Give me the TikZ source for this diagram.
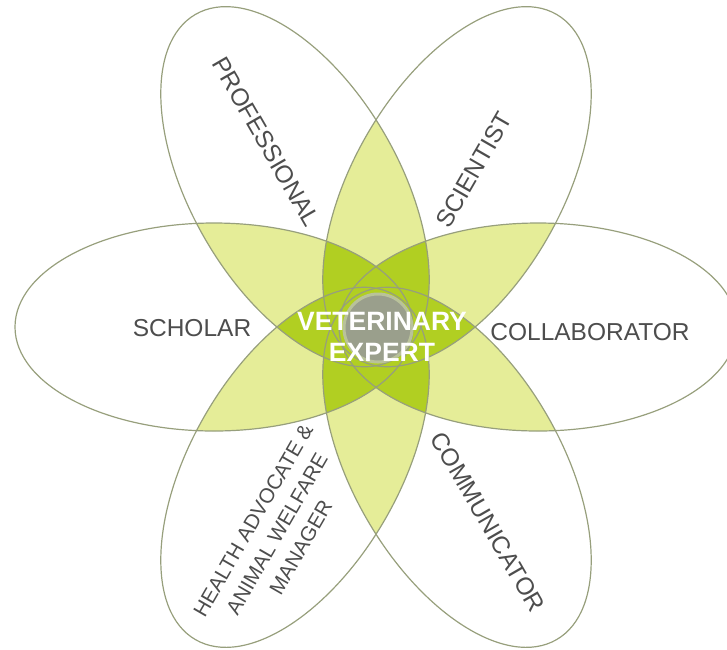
\documentclass[tikz,border=0pt]{standalone}
\usepackage{fontspec}
\setmainfont{Liberation Sans}

\definecolor{petal}{HTML}{E5ED98}
\definecolor{core}{HTML}{B1CF22}
\definecolor{rim}{HTML}{979F7C}
\definecolor{hub}{HTML}{9A9F8C}
\definecolor{hubrim}{HTML}{B9C29A}
\definecolor{ink}{HTML}{4D4D4D}

\begin{document}
\begin{tikzpicture}[x=1pt, y=1pt,
    line cap=round, line join=round,
    outline/.style={rim, line width=1.2pt},
    role/.style={ink, inner sep=0pt, font=\fontsize{24.5}{28}\selectfont}]
\useasboundingbox (0,0) rectangle (727,-649);
\def\a{199}
\def\b{104}
\def\d{162}

\begin{scope}[shift={(376,-327)}]
% PAIRS OF PETALS
\foreach \i in {0,...,4}{
  \pgfmathtruncatemacro\ii{\i+1}
  \foreach \j in {\ii,...,5}{
    \begin{scope}
    \clip[rotate=\i*60] (\d,0) ellipse [x radius=\a, y radius=\b];
    \fill[petal, rotate=\j*60] (\d,0) ellipse [x radius=\a, y radius=\b];
    \end{scope}
  }
}

% THREE OR MORE PETALS
\foreach \i in {0,...,3}{
  \pgfmathtruncatemacro\ii{\i+1}
  \foreach \j in {\ii,...,4}{
    \pgfmathtruncatemacro\jj{\j+1}
    \foreach \k in {\jj,...,5}{
      \begin{scope}
      \clip[rotate=\i*60] (\d,0) ellipse [x radius=\a, y radius=\b];
      \clip[rotate=\j*60] (\d,0) ellipse [x radius=\a, y radius=\b];
      \fill[core, rotate=\k*60] (\d,0) ellipse [x radius=\a, y radius=\b];
      \end{scope}
    }
  }
}

% outlines
\foreach \i in {0,...,5}
  \draw[outline, rotate=\i*60] (\d,0) ellipse [x radius=\a, y radius=\b];

% hub
\filldraw[fill=hub, draw=hubrim, line width=3pt] (2,-1) circle (34);
\end{scope}

% LABELS
\node[role] (collaborator) at (590,-332) {COLLABORATOR};
\node[role, rotate=60] (scientist) at (474,-170) {SCIENTIST};
\node[role, rotate=-60] (professional) at (266,-142) {PROFESSIONAL};
\node[role] (scholar) at (192,-328) {SCHOLAR};
\node[role, rotate=60, align=center, font=\fontsize{20.7}{27.5}\selectfont]
  (health) at (277,-534) {HEALTH ADVOCATE \&\\ANIMAL WELFARE\\MANAGER};
\node[role, rotate=-60] (communicator) at (488,-522) {COMMUNICATOR};
\node[white, inner sep=0pt, align=center, font=\fontsize{26.5}{31}\selectfont\bfseries]
  (expert) at (382,-337) {VETERINARY\\EXPERT};

\end{tikzpicture}
\end{document}
